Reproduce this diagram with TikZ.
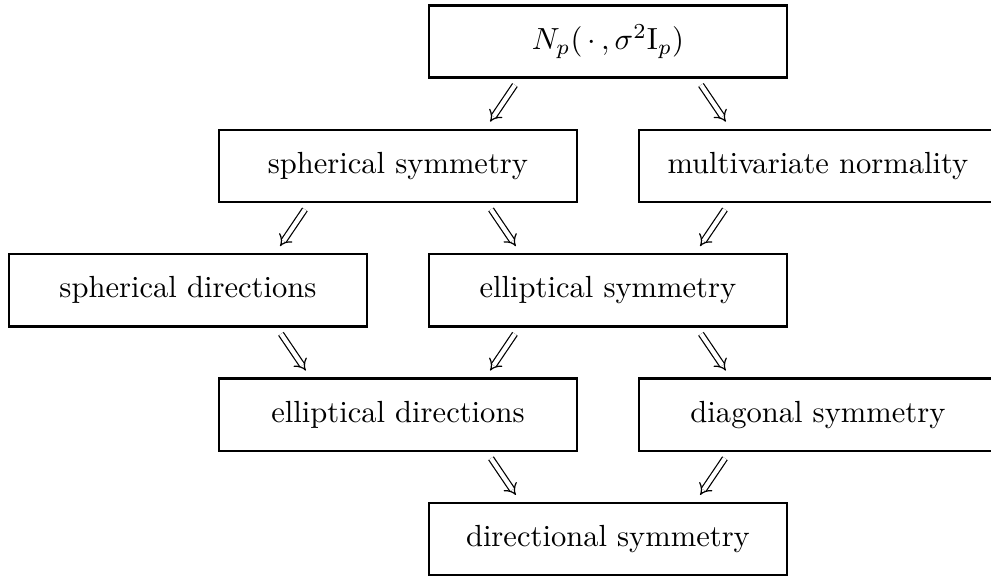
\documentclass[tikz,border=0pt]{standalone}
\usetikzlibrary{arrows.meta}
\begin{document}
\begin{tikzpicture}[xscale = 2.415, yscale = 1.4306,
		box/.style = {draw, line width = 0.8pt, minimum width = 4.12cm, minimum height = 0.83cm},
		imp/.style = {double, double distance = 1.4pt, line width = 0.4pt, -{Implies[scale = 1.2]}}]
		\useasboundingbox (-0.895,0.334) rectangle (3.824,-4.297);
		\node [box] (N) at (2,0) {$N_p(\,\cdot\,,\sigma^2\mathrm{I}_p)$};
		\node [box] (sphsym) at (1,-1) {spherical symmetry};
		\node [box] (mvnorm) at (3,-1) {multivariate normality};
		\node [box] (sphdir) at (0,-2) {spherical directions};
		\node [box] (ellsym) at (2,-2) {elliptical symmetry};
		\node [box] (elldir) at (1,-3) {elliptical directions};
		\node [box] (diagsym) at (3,-3) {diagonal symmetry};
		\node [box] (dirsym) at (2,-4) {directional symmetry};
		% shifts are scaled by the picture, so 0.443cm gives about 1.07cm
		\draw [imp] ([xshift = -0.443cm, yshift = -1.4pt] N.south) -- ([xshift = 0.439cm, yshift = 1.6pt] sphsym.north);
		\draw [imp] ([xshift = 0.443cm, yshift = -1.4pt] N.south) -- ([xshift = -0.439cm, yshift = 1.6pt] mvnorm.north);
		\draw [imp] ([xshift = -0.443cm, yshift = -1.4pt] sphsym.south) -- ([xshift = 0.439cm, yshift = 1.6pt] sphdir.north);
		\draw [imp] ([xshift = 0.443cm, yshift = -1.4pt] sphsym.south) -- ([xshift = -0.439cm, yshift = 1.6pt] ellsym.north);
		\draw [imp] ([xshift = -0.443cm, yshift = -1.4pt] mvnorm.south) -- ([xshift = 0.439cm, yshift = 1.6pt] ellsym.north);
		\draw [imp] ([xshift = 0.443cm, yshift = -1.4pt] sphdir.south) -- ([xshift = -0.439cm, yshift = 1.6pt] elldir.north);
		\draw [imp] ([xshift = -0.443cm, yshift = -1.4pt] ellsym.south) -- ([xshift = 0.439cm, yshift = 1.6pt] elldir.north);
		\draw [imp] ([xshift = 0.443cm, yshift = -1.4pt] ellsym.south) -- ([xshift = -0.439cm, yshift = 1.6pt] diagsym.north);
		\draw [imp] ([xshift = 0.443cm, yshift = -1.4pt] elldir.south) -- ([xshift = -0.439cm, yshift = 1.6pt] dirsym.north);
		\draw [imp] ([xshift = -0.443cm, yshift = -1.4pt] diagsym.south) -- ([xshift = 0.439cm, yshift = 1.6pt] dirsym.north);
	\end{tikzpicture}
\end{document}
